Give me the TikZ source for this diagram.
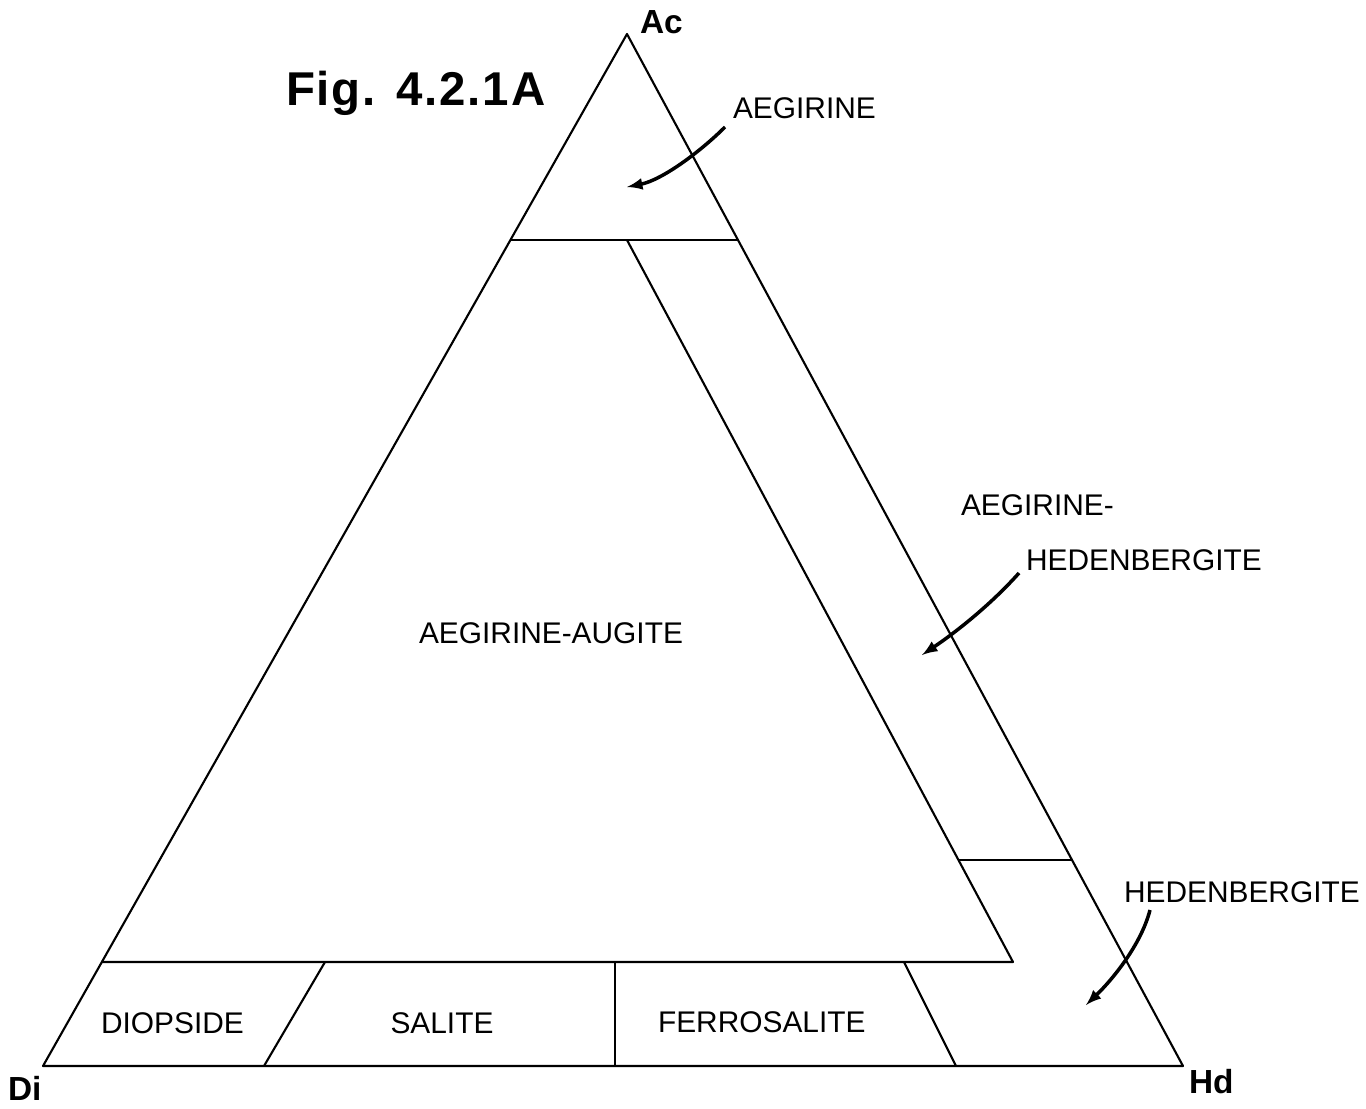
\documentclass[tikz,border=0pt]{standalone}
\usepackage{fontspec}
\setmainfont{Liberation Sans}
\newfontfamily\figfont[LetterSpace=4]{Liberation Sans}
\usetikzlibrary{arrows}
\newcommand{\lblsize}{\fontsize{17pt}{20pt}\selectfont}
\newcommand{\cornersize}{\bfseries\fontsize{19pt}{22pt}\selectfont}

\begin{document}
\begin{tikzpicture}[x=0.02cm,y=-0.02cm,line width=1.2pt,line join=round,
  lbl/.style={anchor=base west,inner sep=0pt,font=\lblsize},
  corner/.style={anchor=base west,inner sep=0pt,font=\cornersize},
  pointer/.style={-latex,line width=2pt}]
\useasboundingbox (0,0) rectangle (1366,1109);
%corners of the triangle
\coordinate (ac) at (627,34);
\coordinate (di) at (43,1066);
\coordinate (hd) at (1183,1066);
%points on the sides and inside
\coordinate (l1) at (510,240);
\coordinate (r1) at (738,240);
\coordinate (m1) at (627,240);
\coordinate (l2) at (102,962);
\coordinate (t1) at (1013,962);
\coordinate (m2) at (958,860);
\coordinate (r2) at (1072,860);
%separators of the bottom band
\coordinate (s1t) at (325,962); \coordinate (s1b) at (264,1066);
\coordinate (s2t) at (615,962); \coordinate (s2b) at (615,1066);
\coordinate (s3t) at (904,962); \coordinate (s3b) at (956,1066);
%draw the fields
\draw (ac) -- (di) -- (hd) -- cycle;
\draw (l1) -- (r1);
\draw (m1) -- (t1) -- (l2);
\draw (m2) -- (r2);
\foreach \i in {1,2,3}
    \draw (s\i t) -- (s\i b);
%corner labels
\node[corner] (acl) at (639,33) {Ac};
\node[corner] (dil) at (7,1100) {Di};
\node[corner] (hdl) at (1188,1093) {Hd};
\node[anchor=base west,inner sep=0pt,font=\figfont\bfseries\fontsize{27pt}{30pt}\selectfont] (fig) at (285,105) {Fig. 4.2.1A};
%field names
\node[lbl] (aeg) at (732,118) {AEGIRINE};
\node[lbl] (aegaug) at (418,643) {AEGIRINE-AUGITE};
\node[lbl] (aeghed1) at (960,515) {AEGIRINE-};
\node[lbl] (aeghed2) at (1025,570) {HEDENBERGITE};
\node[lbl] (hed) at (1123,902) {HEDENBERGITE};
\node[lbl] (dio) at (100,1033) {DIOPSIDE};
\node[lbl,anchor=base] (sal) at (442,1033) {SALITE};
\node[lbl] (fer) at (657,1032) {FERROSALITE};
%pointers
\coordinate (p1s) at (725,127); \coordinate (p1e) at (627,187);
\coordinate (p2s) at (1019,573); \coordinate (p2e) at (922,655);
\coordinate (p3s) at (1150,910); \coordinate (p3e) at (1086,1005);
\draw[pointer] (p1s) .. controls (700,152) and (662,180) .. (p1e);
\draw[pointer] (p2s) .. controls (995,600) and (962,628) .. (p2e);
\draw[pointer] (p3s) .. controls (1141,945) and (1112,980) .. (p3e);
\end{tikzpicture}
\end{document}
